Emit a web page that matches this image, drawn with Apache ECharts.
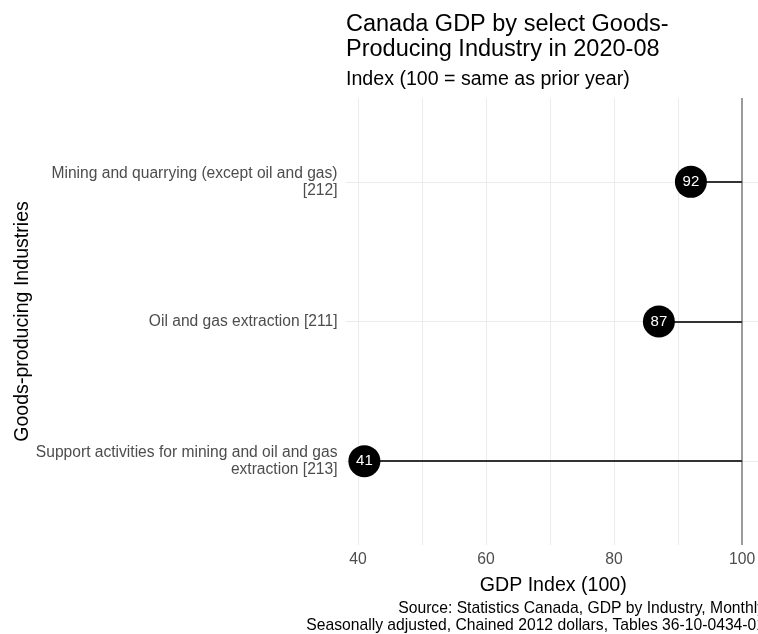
<!DOCTYPE html>
<html><head><meta charset="utf-8">
<script src="https://cdn.jsdelivr.net/npm/echarts@6/dist/echarts.min.js"></script>
<style>html,body{margin:0;padding:0;background:#fff}#c{width:758px;height:634px}</style>
</head><body><div id="c"></div>
<script>
const categories = [
  "Support activities for mining and oil and gas\nextraction [213]",
  "Oil and gas extraction [211]",
  "Mining and quarrying (except oil and gas)\n[212]"
];
const positions = [1, 2, 3];
const values = [41, 87, 92];
const reference = 100;
const xTickLabels = [40, 60, 80, 100];
const xGrid = [40, 50, 60, 70, 80, 90];

const font = "Liberation Sans, Arial, sans-serif";
const chart = echarts.init(document.getElementById('c'));

chart.setOption({
  animation: false,
  backgroundColor: '#fff',
  title: {
    text: 'Canada GDP by select Goods-\nProducing Industry in 2020-08',
    subtext: 'Index (100 = same as prior year)',
    left: 341, top: 7,
    itemGap: 7,
    textStyle: {fontFamily: font, fontSize: 23.5, fontWeight: 'normal', color: '#000', lineHeight: 25},
    subtextStyle: {fontFamily: font, fontSize: 19.6, color: '#000', lineHeight: 21}
  },
  grid: {left: 345.5, top: 98, width: 415.5, height: 447, containLabel: false, outerBoundsMode: 'none'},
  xAxis: {
    type: 'value', min: 38.05, max: 102.95,
    name: 'GDP Index (100)', nameLocation: 'middle', nameGap: 31,
    nameTextStyle: {fontFamily: font, fontSize: 19.6, color: '#000'},
    axisLine: {show: false}, axisTick: {show: false}, splitLine: {show: false},
    axisLabel: {customValues: xTickLabels, fontFamily: font, fontSize: 15.7, color: '#4d4d4d', margin: 7}
  },
  yAxis: {
    type: 'value', min: 0.4, max: 3.6,
    name: 'Goods-producing Industries', nameLocation: 'middle', nameRotate: 90, nameGap: 313,
    nameMoveOverlap: false,
    nameTextStyle: {fontFamily: font, fontSize: 19.6, color: '#000'},
    axisLine: {show: false}, axisTick: {show: false}, splitLine: {show: false},
    axisLabel: {
      customValues: positions, fontFamily: font, fontSize: 15.6, color: '#4d4d4d', margin: 8,
      lineHeight: 17, align: 'right',
      formatter: v => { const i = positions.indexOf(Math.round(v)); return i >= 0 ? categories[i] : ''; }
    }
  },
  series: [
    {
      type: 'line', data: [], silent: true, z: 1,
      markLine: {
        symbol: 'none', silent: true, label: {show: false},
        lineStyle: {color: '#ebebeb', width: 1, type: 'solid'},
        data: xGrid.map(v => ({xAxis: v})).concat(positions.map(p => ({yAxis: p})))
      }
    },
    {
      type: 'line', data: [], silent: true, z: 2,
      markLine: {
        symbol: 'none', silent: true, label: {show: false},
        lineStyle: {color: '#7a7a7a', width: 1.5, type: 'solid'},
        data: [{xAxis: reference}]
      }
    },
    {
      type: 'line', data: [], silent: true, z: 4,
      markLine: {
        symbol: 'none', silent: true, label: {show: false},
        lineStyle: {color: '#333', width: 2, type: 'solid', opacity: 1},
        data: values.map((v, i) => [{coord: [v, positions[i]]}, {coord: [reference, positions[i]]}])
      }
    },
    {
      type: 'scatter', clip: false, symbolSize: 32, silent: true, z: 6,
      itemStyle: {color: '#000', opacity: 1},
      label: {show: true, position: 'inside', color: '#fff', fontFamily: font, fontSize: 15,
        formatter: p => p.value[0]},
      data: values.map((v, i) => [v, positions[i]])
    }
  ],
  graphic: [
    {type: 'text', x: 765, y: 600, style: {
      text: 'Source: Statistics Canada, GDP by Industry, Monthly\nSeasonally adjusted, Chained 2012 dollars, Tables 36-10-0434-01',
      align: 'right', verticalAlign: 'top', fontFamily: font, fontSize: 15.7, lineHeight: 17, fill: '#000'}}
  ]
});
</script></body></html>
